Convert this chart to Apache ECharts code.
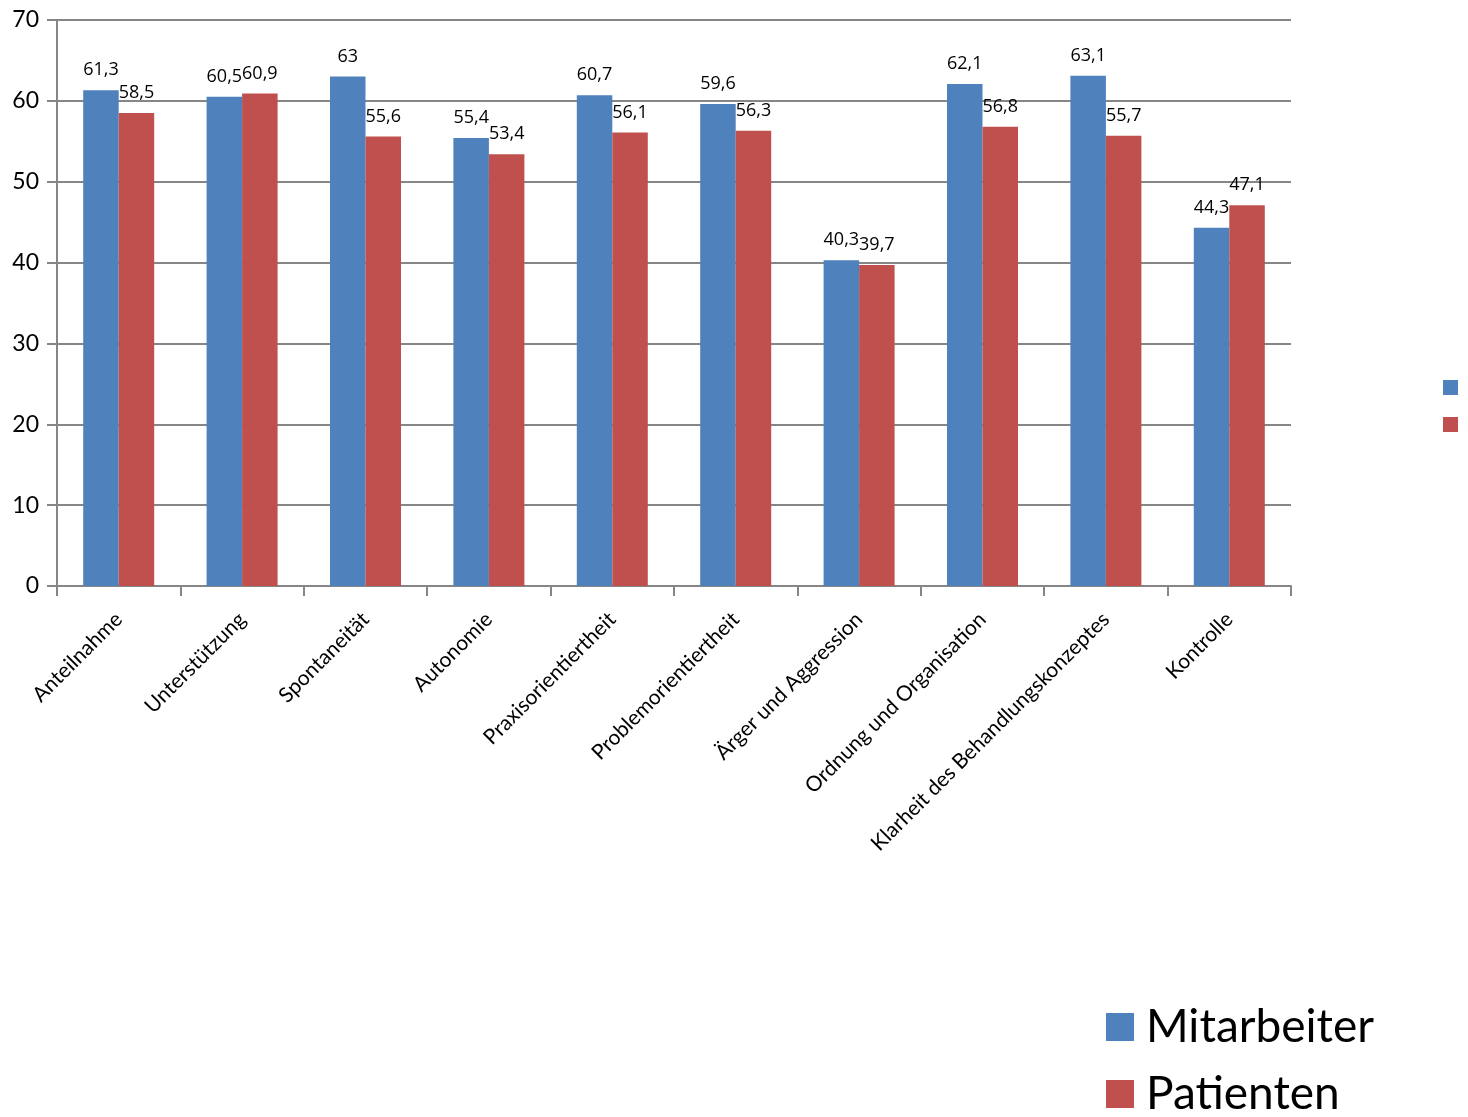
<!DOCTYPE html>
<html><head><meta charset="utf-8">
<script src="https://cdn.jsdelivr.net/npm/echarts@6/dist/echarts.min.js"></script>
<style>html,body{margin:0;padding:0;background:#fff}#c{width:1468px;height:1117px}</style>
</head><body><div id="c"></div>
<script>
const categories = ['Anteilnahme','Unterstützung','Spontaneität','Autonomie','Praxisorientiertheit','Problemorientiertheit','Ärger und Aggression','Ordnung und Organisation','Klarheit des Behandlungskonzeptes','Kontrolle'];
const mitarbeiter = [61.3, 60.5, 63, 55.4, 60.7, 59.6, 40.3, 62.1, 63.1, 44.3];
const patienten = [58.5, 60.9, 55.6, 53.4, 56.1, 56.3, 39.7, 56.8, 55.7, 47.1];
const yTicks = [0, 10, 20, 30, 40, 50, 60, 70];

const FONT = 'Lato, "Open Sans", sans-serif';
const chart = echarts.init(document.getElementById('c'));
const lbl = {
  show: true, position: 'top', distance: 11, color: '#000', fontSize: 18, fontFamily: '"Open Sans", sans-serif',
  formatter: p => String(p.value).replace('.', ',')
};
const bigLegend = (name, top) => ({
  data: [name], orient: 'vertical', left: 1106, top: top,
  icon: 'rect', itemWidth: 28, itemHeight: 28, itemGap: 0, selectedMode: false,
  textStyle: { fontSize: 46, fontFamily: FONT, color: '#000', lineHeight: 50, padding: [6, 0, 0, 7] }, padding: 0
});
chart.setOption({
  animation: false,
  grid: { left: 57, right: 177, top: 20, bottom: 531, containLabel: false },
  legend: [
    bigLegend('Mitarbeiter', 999),
    bigLegend('Patienten', 1066),
    { data: ['Mitarbeiter', 'Patienten'], orient: 'vertical', left: 1443, top: 380,
      icon: 'rect', itemWidth: 15, itemHeight: 15, itemGap: 22,
      formatter: () => '', textStyle: { fontSize: 1 }, padding: 0, selectedMode: false }
  ],
  xAxis: {
    type: 'category', data: categories,
    axisLine: { lineStyle: { color: '#868686', width: 2 } },
    axisTick: { show: true, length: 10, lineStyle: { color: '#868686', width: 2 } },
    axisLabel: { rotate: 45, fontSize: 21, fontFamily: FONT, color: '#000', margin: 30, interval: 0 }
  },
  yAxis: {
    type: 'value', min: yTicks[0], max: yTicks[yTicks.length - 1], interval: 10,
    axisLine: { show: true, lineStyle: { color: '#868686', width: 2 } },
    axisTick: { show: true, length: 10, lineStyle: { color: '#868686', width: 2 } },
    splitLine: { lineStyle: { color: '#868686', width: 2 } },
    axisLabel: { fontSize: 23, fontFamily: FONT, color: '#000', margin: 18 }
  },
  series: [
    { name: 'Mitarbeiter', type: 'bar', data: mitarbeiter, barWidth: 35.5, barGap: '0%',
      itemStyle: { color: '#4F81BD' }, label: lbl },
    { name: 'Patienten', type: 'bar', data: patienten, barWidth: 35.5,
      itemStyle: { color: '#C0504D' }, label: lbl }
  ]
});
</script></body></html>
